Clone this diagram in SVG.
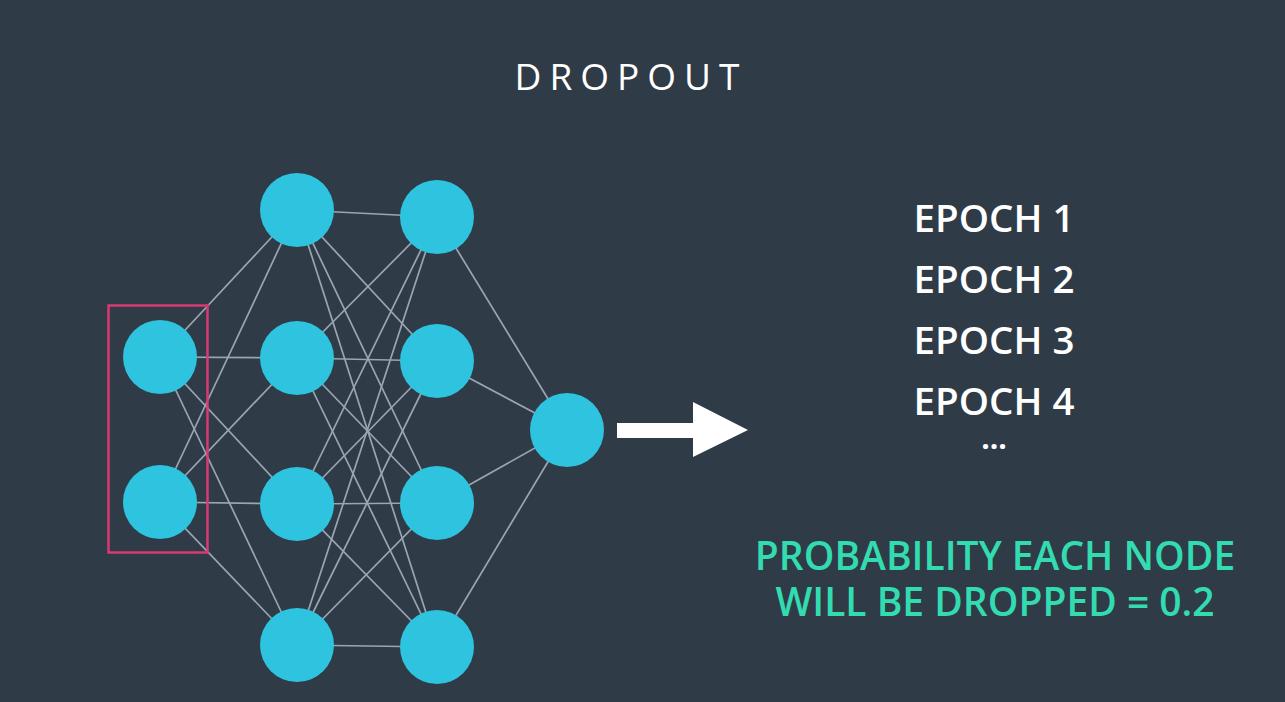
<svg xmlns="http://www.w3.org/2000/svg" width="1285" height="702" viewBox="0 0 1285 702">
<style>
.bg{fill:#2f3b47}
.edge{stroke:#9aa6b2;stroke-width:1.7;fill:none}
.node{fill:#2ec3df}
.title{font-family:"Open Sans","Liberation Sans",sans-serif;font-weight:400;font-size:37px;fill:#ffffff;letter-spacing:8px}
.epoch{font-family:"Open Sans","Liberation Sans",sans-serif;font-weight:600;font-size:38.5px;fill:#ffffff}
.dots{font-family:"Open Sans","Liberation Sans",sans-serif;font-weight:700;font-size:30px;fill:#ffffff}
.prob{font-family:"Open Sans","Liberation Sans",sans-serif;font-weight:600;font-size:39px;fill:#33dcb0}
</style>
<rect class="bg" x="0" y="0" width="1285" height="702"/>
<text class="title" x="631" y="90" text-anchor="middle">DROPOUT</text>
<g id="connectors">
<line class="edge" x1="160" y1="357" x2="297" y2="210"/>
<line class="edge" x1="160" y1="357" x2="297" y2="358"/>
<line class="edge" x1="160" y1="357" x2="297" y2="504"/>
<line class="edge" x1="160" y1="357" x2="297" y2="645"/>
<line class="edge" x1="160" y1="502" x2="297" y2="210"/>
<line class="edge" x1="160" y1="502" x2="297" y2="358"/>
<line class="edge" x1="160" y1="502" x2="297" y2="504"/>
<line class="edge" x1="160" y1="502" x2="297" y2="645"/>
<line class="edge" x1="297" y1="210" x2="437" y2="217"/>
<line class="edge" x1="297" y1="210" x2="437" y2="361"/>
<line class="edge" x1="297" y1="210" x2="437" y2="503"/>
<line class="edge" x1="297" y1="210" x2="437" y2="647"/>
<line class="edge" x1="297" y1="358" x2="437" y2="217"/>
<line class="edge" x1="297" y1="358" x2="437" y2="361"/>
<line class="edge" x1="297" y1="358" x2="437" y2="503"/>
<line class="edge" x1="297" y1="358" x2="437" y2="647"/>
<line class="edge" x1="297" y1="504" x2="437" y2="217"/>
<line class="edge" x1="297" y1="504" x2="437" y2="361"/>
<line class="edge" x1="297" y1="504" x2="437" y2="503"/>
<line class="edge" x1="297" y1="504" x2="437" y2="647"/>
<line class="edge" x1="297" y1="645" x2="437" y2="217"/>
<line class="edge" x1="297" y1="645" x2="437" y2="361"/>
<line class="edge" x1="297" y1="645" x2="437" y2="503"/>
<line class="edge" x1="297" y1="645" x2="437" y2="647"/>
<line class="edge" x1="437" y1="217" x2="567" y2="430"/>
<line class="edge" x1="437" y1="361" x2="567" y2="430"/>
<line class="edge" x1="437" y1="503" x2="567" y2="430"/>
<line class="edge" x1="437" y1="647" x2="567" y2="430"/>
</g>
<g id="input-1"><circle class="node" cx="160" cy="357" r="37"/></g>
<g id="input-2"><circle class="node" cx="160" cy="502" r="37"/></g>
<g id="hidden1-1"><circle class="node" cx="297" cy="210" r="37"/></g>
<g id="hidden1-2"><circle class="node" cx="297" cy="358" r="37"/></g>
<g id="hidden1-3"><circle class="node" cx="297" cy="504" r="37"/></g>
<g id="hidden1-4"><circle class="node" cx="297" cy="645" r="37"/></g>
<g id="hidden2-1"><circle class="node" cx="437" cy="217" r="37"/></g>
<g id="hidden2-2"><circle class="node" cx="437" cy="361" r="37"/></g>
<g id="hidden2-3"><circle class="node" cx="437" cy="503" r="37"/></g>
<g id="hidden2-4"><circle class="node" cx="437" cy="647" r="37"/></g>
<g id="output"><circle class="node" cx="567" cy="430" r="37"/></g>
<g id="dropout-box"><rect x="108.5" y="305.5" width="99" height="247" fill="none" stroke="#d93a74" stroke-width="2.5"/></g>
<g id="arrow"><polygon points="617,423 693,423 693,402 748,430 693,457 693,438 617,438" fill="#ffffff"/></g>
<g id="epochs">
<text class="epoch" x="994" y="232" text-anchor="middle">EPOCH 1</text>
<text class="epoch" x="994" y="293" text-anchor="middle">EPOCH 2</text>
<text class="epoch" x="994" y="354" text-anchor="middle">EPOCH 3</text>
<text class="epoch" x="994" y="415" text-anchor="middle">EPOCH 4</text>
<text class="dots" x="994" y="449" text-anchor="middle">...</text>
</g>
<g id="probability">
<text class="prob" x="995" y="570" text-anchor="middle">PROBABILITY EACH NODE</text>
<text class="prob" x="995" y="616" text-anchor="middle">WILL BE DROPPED = 0.2</text>
</g>
</svg>
